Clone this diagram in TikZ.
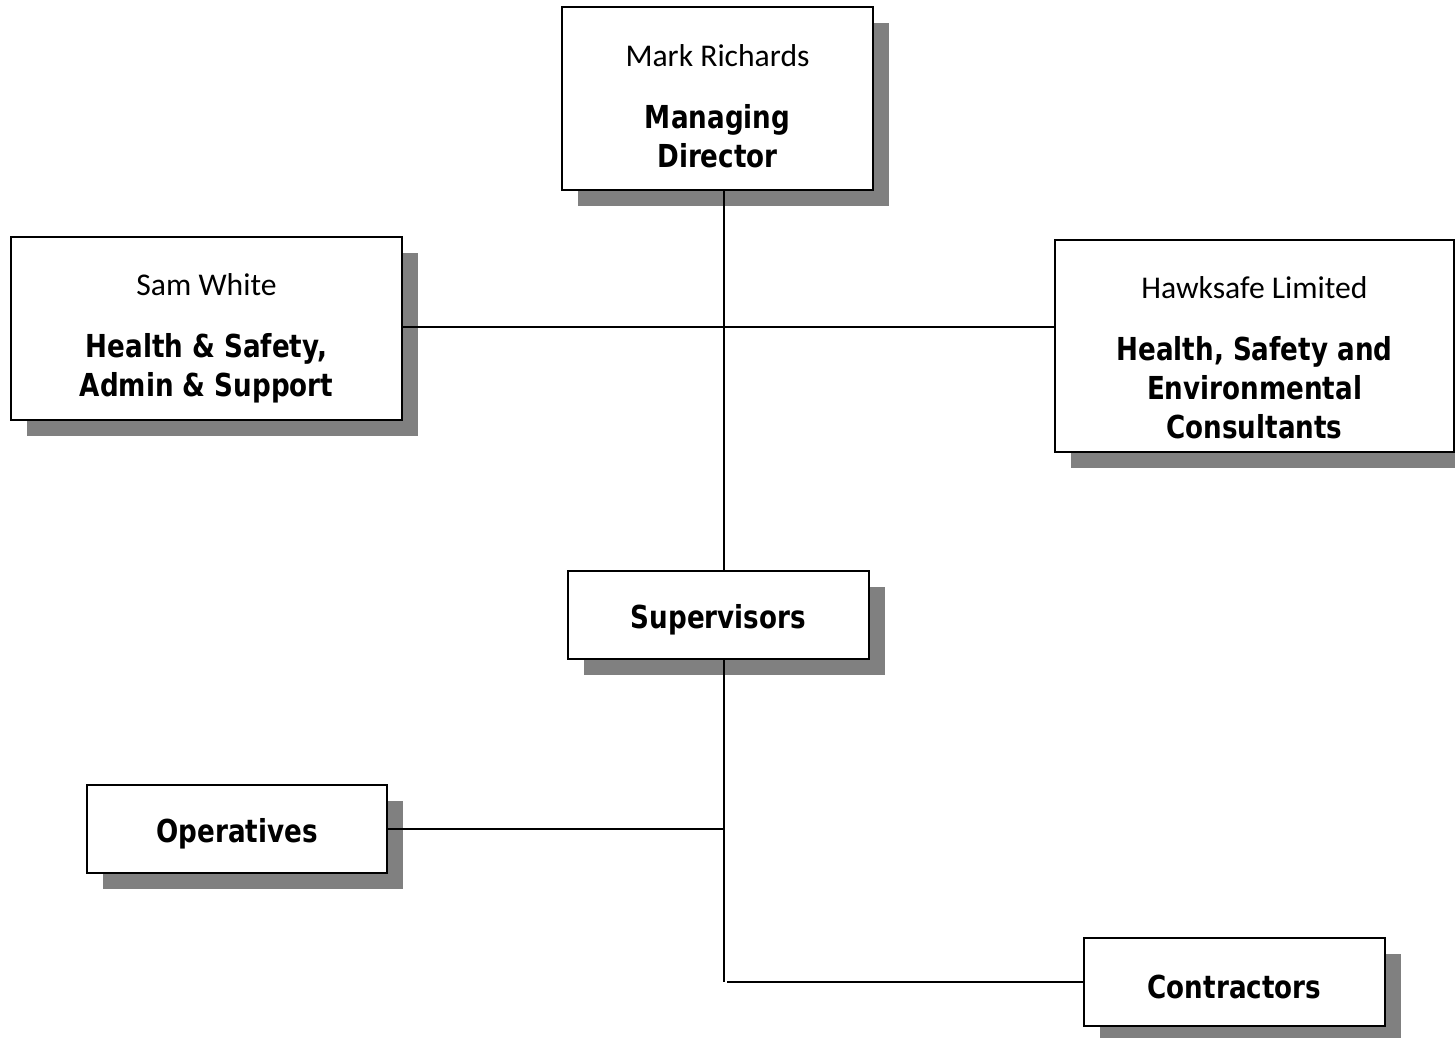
\documentclass[tikz,border=0pt]{standalone}
\usepackage{fontspec}
\setmainfont{Carlito}
\newfontfamily\rolefont[FakeStretch=0.92]{DejaVu Sans Condensed}
\usepackage{tikz}
\usetikzlibrary{shadows,calc}
\definecolor{shade}{HTML}{808080}
\newcommand{\who}[2]{{\normalfont\rule{0pt}{#1}#2}}

\begin{document}
\begin{tikzpicture}[
          every node/.style={font=\rolefont\bfseries\fontsize{18}{22.2}\selectfont},
          box/.style={draw,line width=1.1pt,fill=white,align=center,
                      minimum height=1.76cm,inner sep=0pt,
                      drop shadow={shadow xshift=0.32cm,shadow yshift=-0.32cm,
                                   fill=shade,opacity=1}},
          link/.style={line width=0.7pt},
      ]
        \useasboundingbox (0,0) rectangle (29.1,20.76);

        \node[box,minimum width=6.22cm,minimum height=3.66cm] (md) at (14.35,18.79)
          {\who{21.5pt}{Mark Richards}\\[13pt]Managing\\Director};
        \node[box,minimum width=7.82cm,minimum height=3.66cm] (sam) at (4.13,14.19)
          {\who{23.7pt}{Sam White}\\[13pt]Health \& Safety,\\Admin \& Support};
        \node[box,minimum width=7.98cm,minimum height=4.24cm] (hawk) at (25.09,13.84)
          {\who{26pt}{Hawksafe Limited}\\[13pt]Health, Safety and\\Environmental\\Consultants};

        \node[box,minimum width=6.02cm] (sup) at (14.37,8.46) {\rule{0pt}{19pt}Supervisors};
        \node[box,minimum width=6.0cm] (ops) at (4.74,4.18) {\rule{0pt}{19pt}Operatives};
        \node[box,minimum width=6.02cm] (con) at (24.69,1.12) {\rule{0pt}{19pt}Contractors};

        \coordinate (spine) at (14.48,14.22);

        \draw[link] (md.south -| spine) -- (sup.north -| spine);
        \draw[link] (sam.east |- spine) -- (hawk.west |- spine);
        \draw[link] (sup.south -| spine) -- (con.west -| spine);
        \draw[link] (ops.east) -- (ops.east -| spine);
        \draw[link] ($(con.west -| spine)+(0.06,0)$) -- (con.west);
      \end{tikzpicture}
\end{document}
